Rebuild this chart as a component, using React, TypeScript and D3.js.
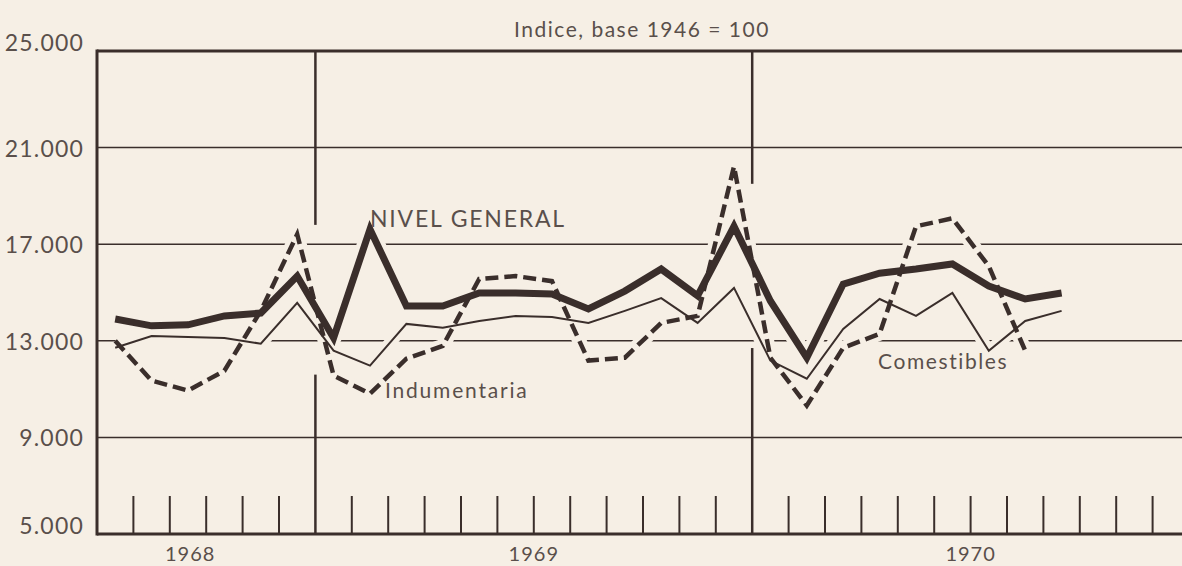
import React, { useEffect, useRef } from "react";
import * as d3 from "d3";

// monthly data, Jul 1968 .. Sep 1970
const months = [
  "1968-07", "1968-08", "1968-09", "1968-10", "1968-11", "1968-12",
  "1969-01", "1969-02", "1969-03", "1969-04", "1969-05", "1969-06",
  "1969-07", "1969-08", "1969-09", "1969-10", "1969-11", "1969-12",
  "1970-01", "1970-02", "1970-03", "1970-04", "1970-05", "1970-06",
  "1970-07", "1970-08", "1970-09",
];
const nivelGeneral = [
  13900, 13620, 13660, 14030, 14150, 15680, 13120, 17620, 14440, 14440,
  14980, 14980, 14940, 14320, 15060, 15970, 14860, 17740, 14650, 12300,
  15350, 15800, 15970, 16180, 15270, 14730, 14980,
];
const comestibles = [
  12710, 13200, 13160, 13120, 12880, 14570, 12590, 11970, 13700, 13540,
  13820, 14030, 13990, 13740, 14240, 14770, 13740, 15190, 12180, 11430,
  13490, 14730, 14030, 14980, 12590, 13820, 14240,
];
const indumentaria = [
  13000, 11350, 10940, 11760, 14240, 17410, 11560, 10810, 12260, 12790,
  15560, 15680, 15470, 12180, 12300, 13740, 14030, 20220, 12300, 10320,
  12710, 13290, 17740, 18070, 16090, 12590,
];
const yTicks = [5000, 9000, 13000, 17000, 21000, 25000];
const gridValues = [9000, 13000, 17000, 21000];
const years = ["1968", "1969", "1970"];
const yearStartMonth = [0, 6, 18];
const yearEndMonth = [6, 18, 30];
const dividerGaps = [[17800, 11600], [19500, 12700]];

const W = 1182, H = 566;
const BG = "#f6efe5";
const INK = "#3a2e2b";
const TEXT = "#5a4f4b";
const FONT = "Lato, 'Noto Sans', sans-serif";

export default function App() {
  const ref = useRef<SVGSVGElement>(null);

  useEffect(() => {
    const svg = d3.select(ref.current);
    svg.selectAll("*").remove();

    const x = d3.scaleLinear().domain([0, 30]).range([97, 1189]);
    const y = d3.scaleLinear().domain([5000, 25000]).range([534, 51]);
    const left = x(0), right = W;
    const fmt = d3.formatLocale({ decimal: ",", thousands: ".", grouping: [3], currency: ["", ""] }).format(",");

    svg.append("rect").attr("width", W).attr("height", H).attr("fill", BG);

    // grid
    svg.append("g").selectAll("line").data(gridValues).join("line")
      .attr("x1", left).attr("x2", right)
      .attr("y1", d => y(d)).attr("y2", d => y(d))
      .attr("stroke", INK).attr("stroke-width", 1.5);

    // year dividers, interrupted where the curves pass
    const divs = svg.append("g");
    [6, 18].forEach((m, i) => {
      const [g1, g2] = dividerGaps[i];
      divs.append("line").attr("x1", x(m)).attr("x2", x(m))
        .attr("y1", y(25000)).attr("y2", y(g1))
        .attr("stroke", INK).attr("stroke-width", 2.5);
      divs.append("line").attr("x1", x(m)).attr("x2", x(m))
        .attr("y1", y(g2)).attr("y2", y(5000))
        .attr("stroke", INK).attr("stroke-width", 2.5);
    });

    // month ticks
    const tickMonths = d3.range(1, 30).filter(m => m !== 6 && m !== 18);
    svg.append("g").selectAll("line").data(tickMonths).join("line")
      .attr("x1", d => x(d)).attr("x2", d => x(d))
      .attr("y1", y(5000)).attr("y2", y(5000) - 38)
      .attr("stroke", INK).attr("stroke-width", 2);

    // frame
    svg.append("line").attr("x1", left).attr("x2", right).attr("y1", y(25000)).attr("y2", y(25000))
      .attr("stroke", INK).attr("stroke-width", 3);
    svg.append("line").attr("x1", left).attr("x2", right).attr("y1", y(5000)).attr("y2", y(5000))
      .attr("stroke", INK).attr("stroke-width", 3);
    svg.append("line").attr("x1", left).attr("x2", left).attr("y1", y(25000) - 1.5).attr("y2", y(5000) + 1.5)
      .attr("stroke", INK).attr("stroke-width", 3);

    const line = d3.line<number>()
      .x((d, i) => x(i + 0.5))
      .y(d => y(d));

    const series = [
      { values: indumentaria, width: 4.5, dash: "13 6", halo: 14 },
      { values: comestibles, width: 2, dash: null, halo: 12 },
      { values: nivelGeneral, width: 7, dash: null, halo: 16 },
    ];

    // halos that break the grid where lines cross
    svg.append("g").selectAll("path").data(series).join("path")
      .attr("d", d => line(d.values))
      .attr("fill", "none").attr("stroke", BG)
      .attr("stroke-width", d => d.halo)
      .attr("stroke-linejoin", "round");

    svg.append("g").selectAll("path").data(series).join("path")
      .attr("d", d => line(d.values))
      .attr("fill", "none").attr("stroke", INK)
      .attr("stroke-width", d => d.width)
      .attr("stroke-dasharray", d => d.dash)
      .attr("stroke-linejoin", "miter")
      .attr("stroke-miterlimit", 10);

    // y labels
    svg.append("g").selectAll("text").data(yTicks).join("text")
      .attr("x", 84)
      .attr("y", d => y(d) + (d === 25000 || d === 5000 ? -9 : 0))
      .attr("text-anchor", "end").attr("dominant-baseline", "central")
      .attr("font-family", FONT).attr("font-size", 23).attr("fill", TEXT)
      .attr("letter-spacing", 1.2)
      .text(d => fmt(d));

    // year labels
    svg.append("g").selectAll("text").data(years).join("text")
      .attr("x", (d, i) => x((yearStartMonth[i] + yearEndMonth[i]) / 2) - (i === 0 ? 16 : 0))
      .attr("y", 561)
      .attr("text-anchor", "middle")
      .attr("font-family", FONT).attr("font-size", 20).attr("fill", TEXT)
      .attr("letter-spacing", 1)
      .text(d => d);

    // title
    svg.append("text").attr("x", 642).attr("y", 37).attr("text-anchor", "middle")
      .attr("font-family", FONT).attr("font-size", 21).attr("fill", TEXT)
      .attr("letter-spacing", 1.5)
      .text("Indice, base 1946 = 100");

    // series labels
    const lab = [
      { t: "NIVEL GENERAL", x: 370, y: 227, size: 23, ls: 1.8 },
      { t: "Indumentaria", x: 385, y: 398, size: 21, ls: 1.8 },
      { t: "Comestibles", x: 878, y: 369, size: 21, ls: 1.6 },
    ];
    svg.append("g").selectAll("text").data(lab).join("text")
      .attr("x", d => d.x).attr("y", d => d.y)
      .attr("font-family", FONT).attr("font-size", d => d.size).attr("fill", TEXT)
      .attr("letter-spacing", d => d.ls)
      .text(d => d.t);
  }, []);

  return (
    <svg ref={ref} width={W} height={H}
      style={{ position: "absolute", left: 0, top: 0, display: "block" }} />
  );
}
